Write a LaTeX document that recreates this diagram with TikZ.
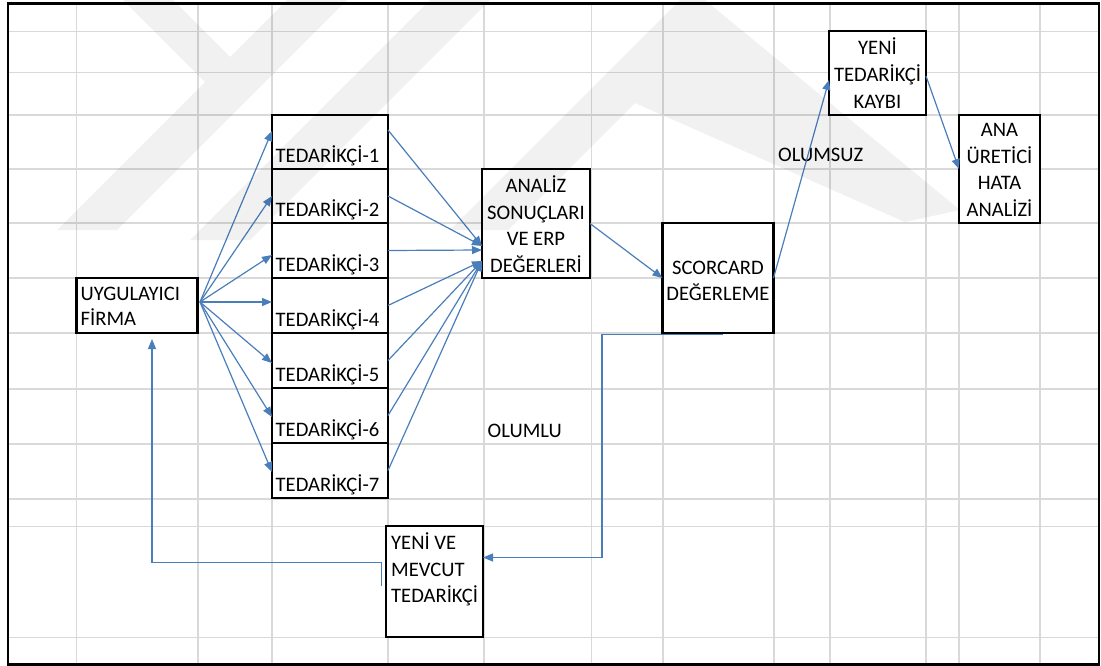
\documentclass[tikz,border=0pt]{standalone}
\usepackage{fontspec}
\setmainfont{Carlito}
\usetikzlibrary{arrows.meta,calc}

\definecolor{linkblue}{HTML}{4A7EBB}
\definecolor{gridc}{HTML}{D9D9D9}

% stacked lines whose first baseline is the baseline of the box
\newcommand{\clines}[2][26.6pt]{\vtop{\baselineskip=#1\relax\halign{\hfil##\hfil\cr#2\crcr}}}
\newcommand{\llines}[2][26.6pt]{\vtop{\baselineskip=#1\relax\halign{##\hfil\cr#2\crcr}}}

\begin{document}
\begin{tikzpicture}[x=1pt,y=-1pt,
  box/.style={draw=black, line width=2.7pt, fill=white, inner sep=0pt, outer sep=0pt, anchor=north west},
  txt/.style={inner sep=0pt, font=\fontsize{20.6}{26.6}\selectfont},
  conn/.style={draw=linkblue, line width=1.2pt, -{Triangle[length=10pt,width=8pt]}},
  gridline/.style={draw=gridc, line width=1.6pt},
  wmark/.style={fill=black, fill opacity=0.055}]

\useasboundingbox (0,0) rectangle (1101,666);

% sheet grid
\foreach \y in {31.7,72.7,115,169,223,278,333,388.7,443.7,498.7,526.3,637.3}
  \draw[gridline] (8,\y) -- (1099,\y);
\foreach \x in {76.5,198,272,388,484,591.5,663,774,830,926,959,1040}
  \draw[gridline] (\x,3.5) -- (\x,664);

% outer frame
\draw[line width=2.5pt] (8,3.5) rectangle (1099,664.5);

% boxes
\node[box, minimum width=121pt, minimum height=55pt] (u) at (76.5,278) {};
\node[box, minimum width=116pt, minimum height=54pt] (t1) at (272,115) {};
\node[box, minimum width=116pt, minimum height=54pt] (t2) at (272,169) {};
\node[box, minimum width=116pt, minimum height=55pt] (t3) at (272,223) {};
\node[box, minimum width=116pt, minimum height=55pt] (t4) at (272,278) {};
\node[box, minimum width=116pt, minimum height=55pt] (t5) at (272,333) {};
\node[box, minimum width=116pt, minimum height=55pt] (t6) at (272,388) {};
\node[box, minimum width=116pt, minimum height=55pt] (t7) at (272,443) {};
\node[box, minimum width=108pt, minimum height=109pt] (a) at (482,169) {};
\node[box, minimum width=111pt, minimum height=110pt] (s) at (662.5,223) {};
\node[box, minimum width=97pt, minimum height=84pt] (k) at (829,31) {};
\node[box, minimum width=81pt, minimum height=108pt] (h) at (959,115) {};
\node[box, minimum width=97pt, minimum height=111pt] (m) at (386,526) {};

% box texts
\node[txt, anchor=base west] (uL) at (80.5,300) {\llines[25pt]{UYGULAYICI\cr FİRMA}};
\foreach \i in {1,...,7}
  \node[txt, anchor=base west] (l\i) at ([xshift=3.5pt,yshift=6.5pt]t\i.south west) {TEDARİKÇİ-\i};
\node[txt, anchor=base] (aL) at (536,192.7) {\clines{ANALİZ\cr SONUÇLARI\cr VE ERP\cr DEĞERLERİ}};
\node[txt, anchor=base] (sL) at (718,274) {\clines{SCORCARD\cr DEĞERLEME}};
\node[txt, anchor=base] (kL) at (877.5,55) {\clines{YENİ\cr TEDARİKÇİ\cr KAYBI}};
\node[txt, anchor=base] (hL) at (999.5,136.7) {\clines{ANA\cr ÜRETİCİ\cr HATA\cr ANALİZİ}};
\node[txt, anchor=base west] (mL) at (391,549.7) {\llines{YENİ VE\cr MEVCUT\cr TEDARİKÇİ}};
\node[txt, anchor=base west] (neg) at (778,161.7) {OLUMSUZ};
\node[txt, anchor=base west] (pos) at (487.5,437.3) {OLUMLU};

% firm to suppliers
\coordinate (uo) at ([xshift=2.5pt,yshift=3.5pt]u.east);
\foreach \i/\s in {1/11,2/0,3/-4.5,4/3.5,5/-2.5,6/-1.5,7/-1.5}
  \draw[conn] (uo) -- ([yshift=\s pt]t\i.west);

% suppliers to analysis
\draw[conn] ([yshift=12pt]t1.east) -- ([yshift=-22.5pt]a.west);
\draw[conn] (t2.east) -- ([yshift=-22.5pt]a.west);
\draw[conn] (t3.east) -- ([yshift=-26.5pt]a.west);
\foreach \i in {4,...,7}
  \draw[conn] (t\i.east) -- ([yshift=-37.5pt]a.west);

% evaluation chain
\draw[conn] (a.east) -- (s.west);
\draw[conn] (s.east) -- ([yshift=-7pt]k.west);
\draw[conn] ([yshift=-3pt]k.east) -- (h.west);

% positive branch back to the firm
\coordinate (sb) at ([xshift=5pt,yshift=-1.5pt]s.south);
\coordinate (mi) at ([yshift=24pt]m.east);
\draw[conn] (sb) -- ++(-121,0) |- (mi);
\coordinate (mo) at ([xshift=-4.5pt,yshift=-4pt]m.west);
\coordinate (ui) at ([xshift=15pt,yshift=-6pt]u.south);
\draw[conn] (mo) -- ++(0,-23) -| (ui);

% faint emblem across the top
\fill[wmark] (123,0) -- (173,0) -- (230,57) -- (287,0) -- (347,0) -- (117,230) -- (57,230) -- (205,82) -- cycle;
\fill[wmark] (430,0) -- (490,0) -- (250,240) -- (190,240) -- cycle;
\fill[wmark] (680,0) -- (705,0) -- (960,210) -- (905,222) -- (635,103) -- (508,230) -- (450,230) -- cycle;

\end{tikzpicture}
\end{document}
